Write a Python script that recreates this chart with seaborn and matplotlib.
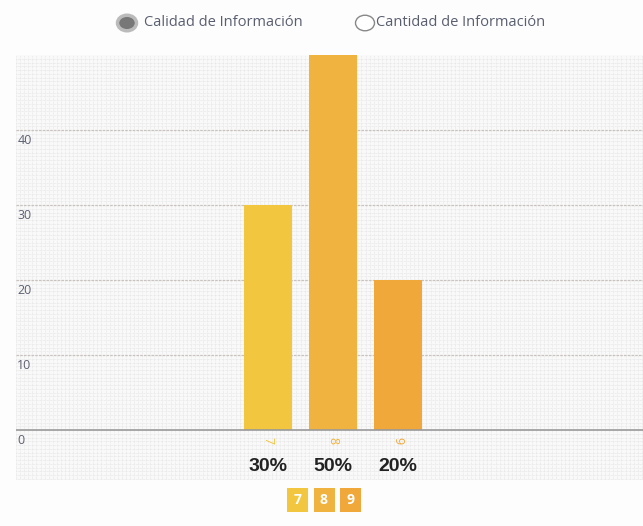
import numpy as np
import pandas as pd
import seaborn as sns
import matplotlib.pyplot as plt
from matplotlib.patches import Circle, Rectangle

# Chart data
notas = ["7", "8", "9"]
porcentajes = [30, 50, 20]
colores = ["#F2C63E", "#F1B33F", "#F1A83A"]
y_ticks = [0, 10, 20, 30, 40]
opciones = ["Calidad de Información", "Cantidad de Información"]

sns.set_theme(style="white")
plt.rcParams['font.family'] = ['Open Sans', 'DejaVu Sans']

W, H = 643, 526
fig = plt.figure(figsize=(W / 100, H / 100), dpi=100)
fig.patch.set_facecolor("#fdfdfd")

# axes covers the gridded area incl. the label band under the baseline
top_px, zero_px, bot_px, left_px = 55, 430, 480, 16
ax = fig.add_axes([left_px / W, 1 - bot_px / H, (W - left_px) / W, (bot_px - top_px) / H])
ax.set_facecolor("#f9f9f9")

unit = (zero_px - top_px) / 50.0
y_floor = -(bot_px - zero_px) / unit

df = pd.DataFrame({"nota": notas, "pct": porcentajes})
sns.barplot(data=df, x="nota", y="pct", hue="nota", palette=colores,
            order=notas, width=0.74, saturation=1, linewidth=0,
            legend=False, ax=ax, zorder=3)
ax.set_xlabel("")
ax.set_ylabel("")

bar_px = 65.0
x0 = (left_px - 268) / bar_px
x1 = (W - 268) / bar_px

# fine mesh background
ax.set_xticks(np.arange(np.floor(x0), x1, 1 / 16), minor=True)
ax.set_yticks(np.arange(np.floor(y_floor), 50, 0.5), minor=True)
ax.grid(which="minor", color="#e2e2e2", linewidth=0.5, linestyle=(0, (1, 1)), zorder=0)
ax.set_xticks([])
ax.set_yticks([])
ax.tick_params(which="both", length=0)
ax.set_xlim(x0, x1)
ax.set_ylim(y_floor, 50)
for v in y_ticks[1:]:
    ax.axhline(v, color="#c9c2bf", linewidth=0.9, linestyle=(0, (2, 1)), zorder=1)
ax.axhline(0, color="#9a9a9a", linewidth=1.2, zorder=4)

for v in y_ticks:
    ax.annotate(str(v), xy=(0, v), xycoords=("axes fraction", "data"),
                xytext=(1, -3), textcoords="offset points", ha="left", va="top",
                fontsize=9, color="#5d6070")

for i, (n, p, c) in enumerate(zip(notas, porcentajes, colores)):
    ax.annotate(n, xy=(i, 0), xytext=(0, -5), textcoords="offset points",
                ha="center", va="top", rotation=-90, fontsize=9, color=c)
    ax.annotate(f"{p}%", xy=(i, 0), xytext=(0, -20), textcoords="offset points",
                ha="center", va="top", fontsize=14, fontweight="bold",
                color="#222222", family=["Liberation Sans", "DejaVu Sans"])

for s in ax.spines.values():
    s.set_visible(False)

# radio-button header
def fx(px):
    return px / W

def fy(py):
    return 1 - py / H

fig.patches.append(Circle((fx(127), fy(23)), 9.5 / W, transform=fig.transFigure,
                          facecolor="#777777", edgecolor="#bbbbbb", linewidth=2.5))
fig.text(fx(144), fy(23), opciones[0], ha="left", va="center", fontsize=10.5,
         color="#5a5f70")
fig.patches.append(Circle((fx(365), fy(23)), 9.5 / W, transform=fig.transFigure,
                          facecolor="white", edgecolor="#888888", linewidth=1))
fig.text(fx(376), fy(23), opciones[1], ha="left", va="center", fontsize=10.5,
         color="#5a5f70")

# bottom legend squares
for i, (n, c) in enumerate(zip(notas, colores)):
    lx = 287 + i * 26.5
    fig.patches.append(Rectangle((fx(lx), fy(512)), 21 / W, 24 / H,
                                 transform=fig.transFigure, facecolor=c, edgecolor="none"))
    fig.text(fx(lx + 10.5), fy(500), n, ha="center", va="center", fontsize=10,
             fontweight="bold", color="white")

fig.savefig("out.png", dpi=100, facecolor=fig.get_facecolor())
